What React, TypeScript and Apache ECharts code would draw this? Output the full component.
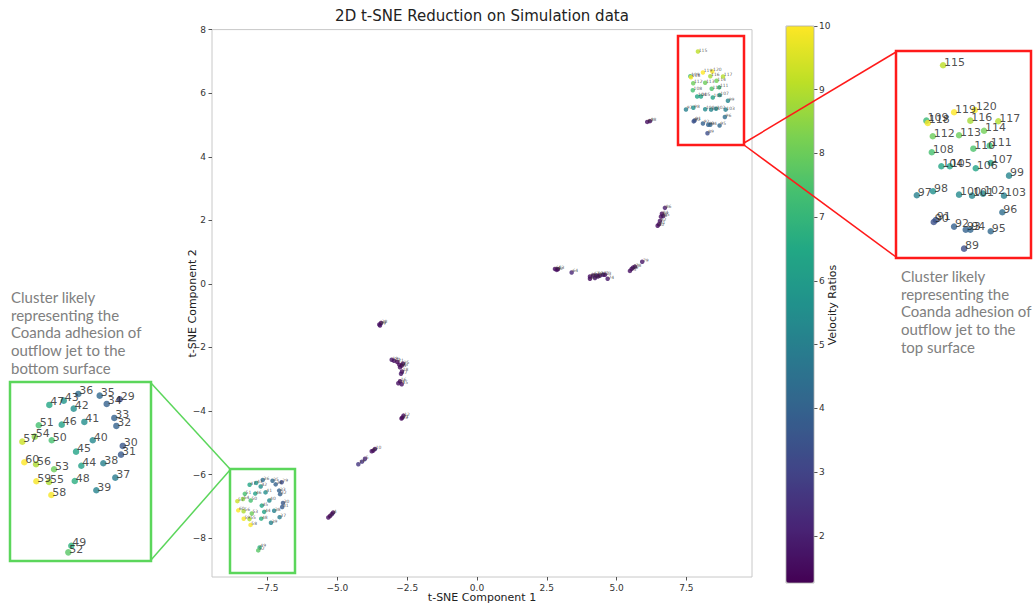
import React, { useEffect, useRef } from "react";
import * as echarts from "echarts";

// [id, t-SNE 1, t-SNE 2, velocity ratio]
const topCluster: number[][] = [
  [89, 8.255, 4.739, 3.3], [90, 7.761, 5.113, 3.4], [91, 7.794, 5.141, 3.5], [92, 8.092, 5.048, 3.9],
  [93, 8.282, 5.005, 4.0], [94, 8.357, 5.005, 4.1], [95, 8.689, 4.983, 4.2], [96, 8.878, 5.249, 4.4],
  [97, 7.485, 5.487, 5.0], [98, 7.75, 5.543, 5.6], [99, 8.987, 5.762, 5.2], [100, 8.173, 5.496, 5.4],
  [101, 8.385, 5.482, 5.2], [102, 8.564, 5.51, 5.3], [103, 8.905, 5.482, 5.0], [104, 7.885, 5.894, 6.4],
  [105, 8.022, 5.894, 6.3], [106, 8.445, 5.866, 6.3], [107, 8.689, 5.94, 6.1], [108, 7.729, 6.09, 7.4],
  [109, 7.641, 6.533, 7.1], [110, 8.406, 6.14, 7.5], [111, 8.673, 6.182, 7.2], [112, 7.745, 6.314, 8.0],
  [113, 8.173, 6.328, 8.0], [114, 8.58, 6.392, 8.1], [115, 7.913, 7.309, 9.1], [116, 8.357, 6.533, 8.8],
  [117, 8.813, 6.524, 9.0], [118, 7.664, 6.5, 9.9], [119, 8.092, 6.65, 10.0], [120, 8.429, 6.683, 10.0],
];

const bottomCluster: number[][] = [
  [29, -6.997, -6.24, 3.2], [30, -6.948, -6.894, 3.6], [31, -6.976, -7.016, 3.7], [32, -7.052, -6.614, 4.0],
  [33, -7.085, -6.502, 4.0], [34, -7.209, -6.306, 4.0], [35, -7.323, -6.19, 4.2], [36, -7.671, -6.166, 4.4],
  [37, -7.069, -7.338, 4.9], [38, -7.264, -7.137, 5.0], [39, -7.378, -7.515, 5.1], [40, -7.436, -6.814, 5.3],
  [41, -7.573, -6.558, 5.5], [42, -7.746, -6.372, 5.5], [43, -7.908, -6.26, 5.8], [44, -7.622, -7.171, 6.2],
  [45, -7.708, -6.974, 6.3], [46, -7.941, -6.596, 6.2], [47, -8.143, -6.32, 6.4], [48, -7.729, -7.385, 6.7],
  [49, -7.785, -8.291, 6.8], [50, -8.104, -6.814, 7.4], [51, -8.315, -6.605, 7.4], [52, -7.834, -8.384, 7.7],
  [53, -8.066, -7.221, 8.0], [54, -8.38, -6.764, 8.5], [55, -8.148, -7.399, 8.9], [56, -8.359, -7.151, 8.9],
  [57, -8.582, -6.834, 9.3], [58, -8.11, -7.581, 9.9], [59, -8.354, -7.389, 9.9], [60, -8.55, -7.123, 10.0],
];

const lowerPath: number[][] = [
  [1, -5.324, -7.349, 1.5], [2, -5.263, -7.303, 1.4], [3, -5.202, -7.247, 1.6], [4, -5.156, -7.195, 1.5],
  [5, -4.01, -5.499, 2.2], [6, -4.117, -5.592, 2.4], [7, -4.25, -5.675, 2.6],
  [8, -3.77, -5.262, 1.6], [9, -3.713, -5.244, 1.5], [10, -3.652, -5.191, 1.7],
  [11, -2.675, -4.205, 1.5], [12, -2.632, -4.143, 1.6], [13, -2.703, -4.236, 1.4],
  [14, -2.818, -3.126, 1.6], [15, -2.696, -3.157, 1.7], [16, -2.757, -3.064, 1.5],
  [17, -2.721, -2.827, 1.8], [18, -2.685, -2.756, 1.6],
  [19, -3.054, -2.386, 1.7], [20, -2.972, -2.417, 1.6], [21, -2.854, -2.457, 1.3], [22, -2.782, -2.54, 1.4],
  [23, -2.696, -2.571, 1.3], [24, -2.757, -2.623, 1.5], [25, -2.649, -2.509, 1.4],
  [26, -3.498, -1.276, 1.6], [27, -3.473, -1.307, 1.7], [28, -3.437, -1.23, 1.5],
];

const upperPath: number[][] = [
  [61, 2.793, 0.472, 1.5], [62, 2.854, 0.441, 1.6], [63, 2.9, 0.465, 1.4], [64, 3.391, 0.358, 2.2],
  [65, 4.046, 0.163, 1.5], [66, 4.046, 0.234, 1.6], [67, 4.164, 0.265, 1.4], [68, 4.225, 0.188, 1.7],
  [69, 4.286, 0.265, 1.5], [70, 4.332, 0.234, 1.6], [71, 4.404, 0.265, 1.4], [72, 4.522, 0.287, 1.7],
  [73, 4.583, 0.287, 1.6], [74, 4.68, 0.163, 1.8],
  [75, 5.478, 0.41, 1.6], [76, 5.539, 0.472, 1.5], [77, 5.585, 0.512, 1.7], [78, 5.657, 0.543, 1.6], [79, 5.918, 0.697, 1.8],
  [80, 6.47, 1.828, 1.6], [81, 6.516, 1.877, 1.5], [82, 6.552, 1.982, 1.7], [83, 6.588, 2.115, 1.6],
  [84, 6.624, 2.207, 1.5], [85, 6.67, 2.136, 1.7], [86, 6.731, 2.392, 1.9],
  [87, 6.097, 5.096, 1.6], [88, 6.194, 5.12, 1.5],
];

const xTicks = [-7.5, -5, -2.5, 0, 2.5, 5, 7.5];
const yTicks = [-8, -6, -4, -2, 0, 2, 4, 6, 8];
const colorbarTicks = [2, 3, 4, 5, 6, 7, 8, 9, 10];
const viridis = ["#440154", "#482475", "#414487", "#355f8d", "#2a788e", "#21918c", "#22a884", "#44bf70", "#7ad151", "#bddf26", "#fde725"];

const toSeries = (rows: number[][]) => rows.map((r) => [r[1], r[2], r[3], r[0]]);
const minus = (s: string) => s.replace("-", "\u2212");

export default function App() {
  const ref = useRef<HTMLDivElement>(null);
  useEffect(() => {
    const chart = echarts.init(ref.current!, undefined, { renderer: "svg" });
    const allPoints = [...lowerPath, ...upperPath, ...bottomCluster, ...topCluster];
    const tickFont = { fontSize: 9, color: "#333", fontFamily: "DejaVu Sans" };
    const red = "#ff1a1a";
    const green = "#5bd65b";
    const annot = { fontSize: 15, fill: "#808080", fontFamily: "Lato", lineHeight: 17.7 };
    const insetLabel = (size: number) => ({
      show: true,
      formatter: (p: any) => String(p.value[3]),
      position: [size / 2 + 1, size / 2 + 2.5],
      align: "left",
      verticalAlign: "bottom",
      fontSize: 11,
      color: "#222",
      fontFamily: "DejaVu Sans",
    });
    chart.setOption({
      animation: false,
      backgroundColor: "#fff",
      grid: [
        { left: 212, top: 29.6, width: 540, height: 557, show: true, borderColor: "#c8c8c8", borderWidth: 1 },
        { left: 896, top: 51, width: 135, height: 207 },
        { left: 10, top: 382, width: 141, height: 179 },
        { left: 786, top: 26, width: 28, height: 557 },
      ],
      xAxis: [
        {
          gridIndex: 0, type: "value", min: -9.49, max: 9.85, position: "bottom",
          splitLine: { show: false }, axisLine: { show: false, onZero: false },
          axisTick: { show: true, customValues: xTicks, length: 3.5, lineStyle: { color: "#555" } },
          axisLabel: { customValues: xTicks, formatter: (v: number) => minus(v.toFixed(1)), margin: 6, ...tickFont },
          name: "t-SNE Component 1", nameLocation: "middle", nameGap: 15, nameMoveOverlap: false,
          nameTextStyle: { fontSize: 11, color: "#222", fontFamily: "DejaVu Sans" },
        },
        { gridIndex: 1, type: "value", min: 7.146, max: 9.345, show: false },
        { gridIndex: 2, type: "value", min: -8.783, max: -6.488, show: false },
        { gridIndex: 3, type: "value", min: 0, max: 1, show: false },
      ],
      yAxis: [
        {
          gridIndex: 0, type: "value", min: -9.22, max: 8.0, position: "left",
          splitLine: { show: false }, axisLine: { show: false, onZero: false },
          axisTick: { show: true, customValues: yTicks, length: 3.5, lineStyle: { color: "#555" } },
          axisLabel: { customValues: yTicks, formatter: (v: number) => minus(String(v)), margin: 6, ...tickFont },
          name: "t-SNE Component 2", nameLocation: "middle", nameGap: 14, nameMoveOverlap: false,
          nameTextStyle: { fontSize: 11, color: "#222", fontFamily: "DejaVu Sans" },
        },
        { gridIndex: 1, type: "value", min: 4.608, max: 7.509, show: false },
        { gridIndex: 2, type: "value", min: -8.505, max: -5.999, show: false },
        {
          gridIndex: 3, type: "value", min: 1.26, max: 10, position: "right",
          splitLine: { show: false }, axisLine: { show: false, onZero: false },
          axisTick: { show: true, customValues: colorbarTicks, length: 3.5, lineStyle: { color: "#555" } },
          axisLabel: { customValues: colorbarTicks, margin: 5, ...tickFont },
        },
      ],
      visualMap: {
        type: "continuous", min: 1.26, max: 10, dimension: 2, seriesIndex: [0, 1, 2],
        inRange: { color: viridis }, calculable: false, orient: "vertical",
        left: 786, top: 26, itemWidth: 28, itemHeight: 557, padding: 0,
      },
      series: [
        {
          type: "scatter", xAxisIndex: 0, yAxisIndex: 0, data: toSeries(allPoints), symbolSize: 4.5,
          label: {
            show: true, formatter: (p: any) => String(p.value[3]), position: [3, 3.2],
            align: "left", verticalAlign: "bottom", fontSize: 4.5, color: "#333", fontFamily: "DejaVu Sans",
          },
        },
        { type: "scatter", xAxisIndex: 1, yAxisIndex: 1, data: toSeries(topCluster), symbolSize: 6.5, label: insetLabel(6.5) },
        { type: "scatter", xAxisIndex: 2, yAxisIndex: 2, data: toSeries(bottomCluster), symbolSize: 6.5, label: insetLabel(6.5) },
      ],
      graphic: [
        { type: "text", x: 482, y: 16, style: { text: "2D t-SNE Reduction on Simulation data", textAlign: "center", textVerticalAlign: "middle", fontSize: 15, fill: "#222", fontFamily: "DejaVu Sans" } },
        { type: "rect", shape: { x: 786, y: 26, width: 28, height: 557 }, style: { fill: "none", stroke: "#aaa", lineWidth: 0.8 }, z: 50 },
        { type: "text", x: 832, y: 305, rotation: Math.PI / 2, style: { text: "Velocity Ratios", textAlign: "center", textVerticalAlign: "middle", fontSize: 11, fill: "#222", fontFamily: "DejaVu Sans" }, z: 50 },
        { type: "rect", shape: { x: 678, y: 36, width: 66, height: 109 }, style: { fill: "none", stroke: red, lineWidth: 2.5 }, z: 100 },
        { type: "rect", shape: { x: 896, y: 51, width: 135, height: 207 }, style: { fill: "none", stroke: red, lineWidth: 2.5 }, z: 100 },
        { type: "line", shape: { x1: 744, y1: 143, x2: 896, y2: 52 }, style: { stroke: red, lineWidth: 1.5 }, z: 100 },
        { type: "line", shape: { x1: 744, y1: 145, x2: 896, y2: 257 }, style: { stroke: red, lineWidth: 1.5 }, z: 100 },
        { type: "rect", shape: { x: 230, y: 469, width: 65, height: 104 }, style: { fill: "none", stroke: green, lineWidth: 2.5 }, z: 100 },
        { type: "rect", shape: { x: 10, y: 382, width: 141, height: 179 }, style: { fill: "none", stroke: green, lineWidth: 2.5 }, z: 100 },
        { type: "line", shape: { x1: 151, y1: 383, x2: 230, y2: 469 }, style: { stroke: green, lineWidth: 1.5 }, z: 100 },
        { type: "line", shape: { x1: 151, y1: 560, x2: 230, y2: 470 }, style: { stroke: green, lineWidth: 1.5 }, z: 100 },
        { type: "text", x: 11, y: 288, style: { text: "Cluster likely\nrepresenting the\nCoanda adhesion of\noutflow jet to the\nbottom surface", ...annot } },
        { type: "text", x: 901, y: 267, style: { text: "Cluster likely\nrepresenting the\nCoanda adhesion of\noutflow jet to the\ntop surface", ...annot } },
      ],
    });
    return () => chart.dispose();
  }, []);
  return <div ref={ref} style={{ position: "absolute", left: 0, top: 0, width: 1034, height: 608 }} />;
}
